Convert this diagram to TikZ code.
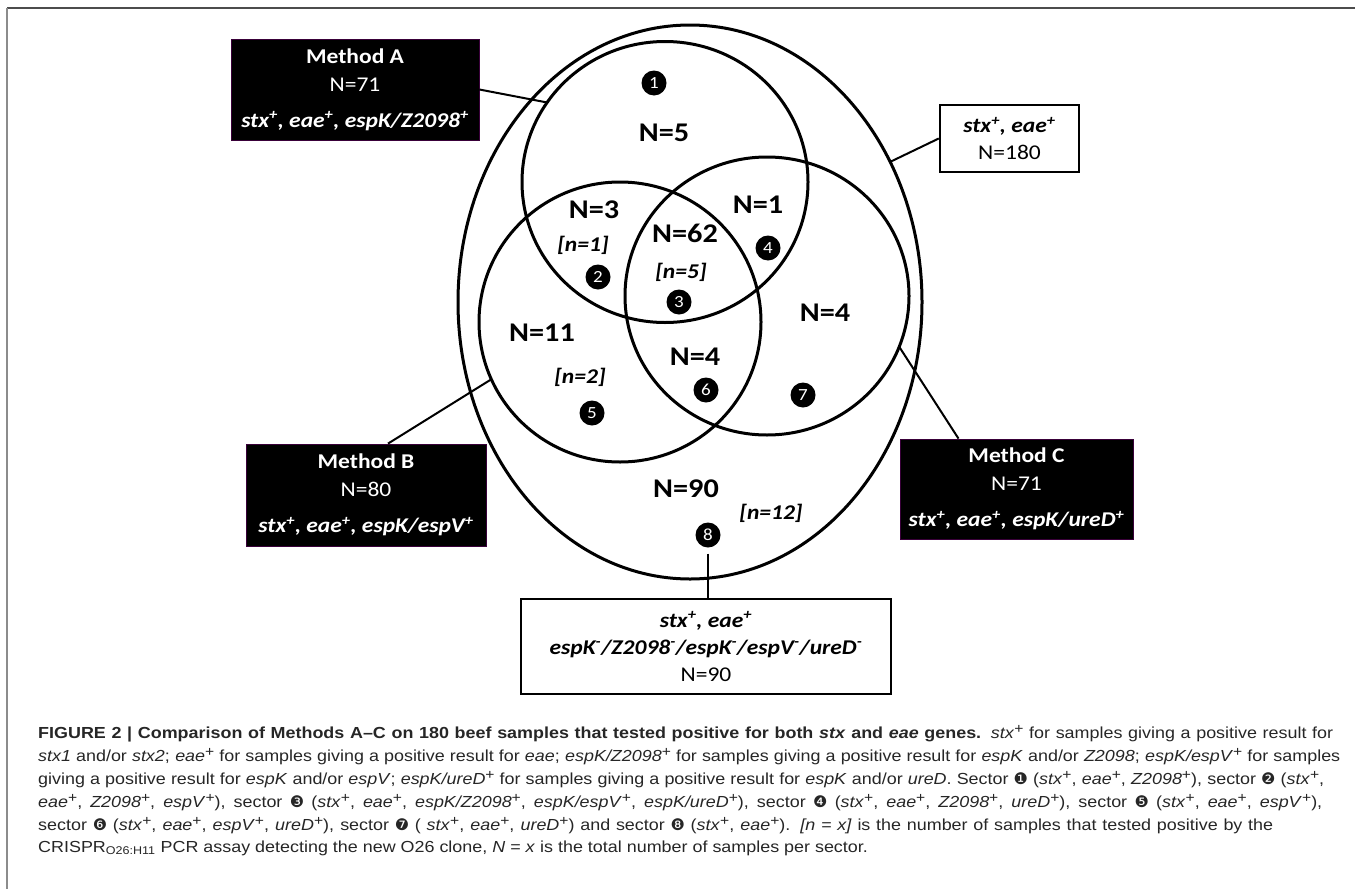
\documentclass[tikz,border=0pt]{standalone}
\usepackage{fontspec}
\setmainfont{Carlito}[FakeStretch=1.12]
\newfontfamily\capfont{Liberation Sans}[FakeStretch=1.12]
\newfontfamily\symfont{DejaVu Sans}
\usetikzlibrary{shapes.geometric}
\newcommand{\gene}[1]{\textbf{\textit{#1}}}
\newcommand{\gpos}{\textsuperscript{+}}
\newcommand{\gneg}{\textsuperscript{-}}
\newcommand{\cpos}{\raisebox{5pt}{\fontsize{14}{14}\selectfont +}}
\newcommand{\secmark}[1]{{\symfont #1}}
\newcommand{\capfill}[2]{\hbox to #1{\spaceskip=0.28em plus 1em minus 0.1em\relax #2}}
\tikzset{
    venn/.style={draw,ellipse,line width=3pt,inner sep=0pt,outer sep=0pt},
    blackbox/.style={fill=black,draw=black!55!violet,line width=0.8pt,text=white,align=center,inner sep=0pt,font=\fontsize{21}{28}\selectfont},
    whitebox/.style={draw,line width=2.5pt,align=center,inner sep=0pt,font=\fontsize{21}{27}\selectfont},
    sector/.style={circle,fill=black,text=white,inner sep=0pt,minimum size=25pt,font=\fontsize{17}{17}\selectfont},
    count/.style={font=\fontsize{27}{27}\selectfont\bfseries},
    hits/.style={font=\fontsize{21}{21}\selectfont\bfseries\itshape},
    capline/.style={anchor=base west,inner sep=0pt,font=\fontsize{16}{16}\capfont,text=black!85}
}
\begin{document}
\begin{tikzpicture}[x=1pt,y=-1pt]
\useasboundingbox (0,0) rectangle (1355,889);
\draw[line width=2pt,black!70] (7,8) -- (1355,8);
\draw[line width=1.5pt,black!45] (7,8) -- (7,889);

\node[venn,minimum width=464pt,minimum height=554pt] (all) at (690,302) {};
\node[venn,minimum width=286pt,minimum height=281pt] (circA) at (665,182) {};
\node[venn,minimum width=282pt,minimum height=280pt] (circB) at (620,322) {};
\node[venn,minimum width=284pt,minimum height=278pt] (circC) at (767,296) {};

\node[sector] (m1) at (654,83) {1};
\node[count] (n5) at (664,133) {N=5};
\node[count] (n3) at (594,210) {N=3};
\node[hits] (h1) at (583,245) {[n=1]};
\node[sector] (m2) at (598,277) {2};
\node[count] (n62) at (685,233) {N=62};
\node[hits] (h5) at (681,272) {[n=5]};
\node[sector] (m3) at (679,302) {3};
\node[count] (n1) at (758,205) {N=1};
\node[sector] (m4) at (768,248) {4};
\node[count] (n11) at (542,333) {N=11};
\node[hits] (h2) at (580,377) {[n=2]};
\node[sector] (m5) at (592,413) {5};
\node[count] (n4c) at (825,313) {N=4};
\node[count] (n4bc) at (695,357) {N=4};
\node[sector] (m6) at (706,390) {6};
\node[sector] (m7) at (803,395) {7};
\node[count] (n90) at (686,489) {N=90};
\node[hits] (h12) at (771,513) {[n=12]};
\node[sector] (m8) at (708,535) {8};

\node[blackbox,minimum width=248pt,minimum height=101pt] (boxA) at (355,89.5)
  {\textbf{Method A}\\N=71\\[8pt]\gene{stx\gpos, eae\gpos, espK/Z2098\gpos}};
\node[blackbox,minimum width=240pt,minimum height=102pt] (boxB) at (366,495)
  {\textbf{Method B}\\N=80\\[8pt]\gene{stx\gpos, eae\gpos, espK/espV\gpos}};
\node[blackbox,minimum width=233pt,minimum height=100pt] (boxC) at (1016.5,489)
  {\textbf{Method C}\\N=71\\[8pt]\gene{stx\gpos, eae\gpos, espK/ureD\gpos}};
\node[whitebox,minimum width=139pt,minimum height=67pt] (boxAll) at (1009.5,138.5)
  {\gene{stx\gpos, eae\gpos}\\N=180};
\node[whitebox,minimum width=370pt,minimum height=95pt] (boxN) at (706,646.5)
  {\gene{stx\gpos, eae\gpos}\\\gene{espK\gneg/Z2098\gneg/espK\gneg/espV\gneg/ureD\gneg}\\N=90};

\draw[line width=2pt] (boxA.east) -- (circA.146);
\draw[line width=2pt] ([xshift=22pt]boxB.north) -- (circB.204);
\draw[line width=2pt] (boxAll.west) -- (all.35.6);
\draw[line width=2pt] (circC.-21.4) -- ([xshift=-58pt]boxC.north);
\draw[line width=2pt,shorten <=6pt] (m8.south) -- (m8.south |- boxN.north);

\node[capline] (cap1) at (38,738) {\capfill{1295pt}{\textbf{FIGURE 2 | Comparison of Methods A–C on 180 beef samples that tested positive for both \textit{stx} and \textit{eae} genes.} \textit{stx}\cpos{} for samples giving a positive result for}};
\node[capline] (cap2) at (38,761) {\capfill{1302pt}{\textit{stx1} and/or \textit{stx2}; \textit{eae}\cpos{} for samples giving a positive result for \textit{eae}; \textit{espK/Z2098}\cpos{} for samples giving a positive result for \textit{espK} and/or \textit{Z2098}; \textit{espK/espV}\cpos{} for samples}};
\node[capline] (cap3) at (38,784) {\capfill{1286pt}{giving a positive result for \textit{espK} and/or \textit{espV}; \textit{espK/ureD}\cpos{} for samples giving a positive result for \textit{espK} and/or \textit{ureD}. Sector \secmark{❶} (\textit{stx}\cpos, \textit{eae}\cpos, \textit{Z2098}\cpos), sector \secmark{❷} (\textit{stx}\cpos,}};
\node[capline] (cap4) at (38,807) {\capfill{1284pt}{\textit{eae}\cpos, \textit{Z2098}\cpos, \textit{espV}\cpos), sector \secmark{❸} (\textit{stx}\cpos, \textit{eae}\cpos, \textit{espK/Z2098}\cpos, \textit{espK/espV}\cpos, \textit{espK/ureD}\cpos), sector \secmark{❹} (\textit{stx}\cpos, \textit{eae}\cpos, \textit{Z2098}\cpos, \textit{ureD}\cpos), sector \secmark{❺} (\textit{stx}\cpos, \textit{eae}\cpos, \textit{espV}\cpos),}};
\node[capline] (cap5) at (38,830) {\capfill{1235pt}{sector \secmark{❻} (\textit{stx}\cpos, \textit{eae}\cpos, \textit{espV}\cpos, \textit{ureD}\cpos), sector \secmark{❼} ( \textit{stx}\cpos, \textit{eae}\cpos, \textit{ureD}\cpos) and sector \secmark{❽} (\textit{stx}\cpos, \textit{eae}\cpos). \textit{[n = x]} is the number of samples that tested positive by the}};
\node[capline] (cap6) at (38,852) {CRISPR\textsubscript{O26:H11} PCR assay detecting the new O26 clone, \textit{N} = \textit{x} is the total number of samples per sector.};
\end{tikzpicture}
\end{document}
